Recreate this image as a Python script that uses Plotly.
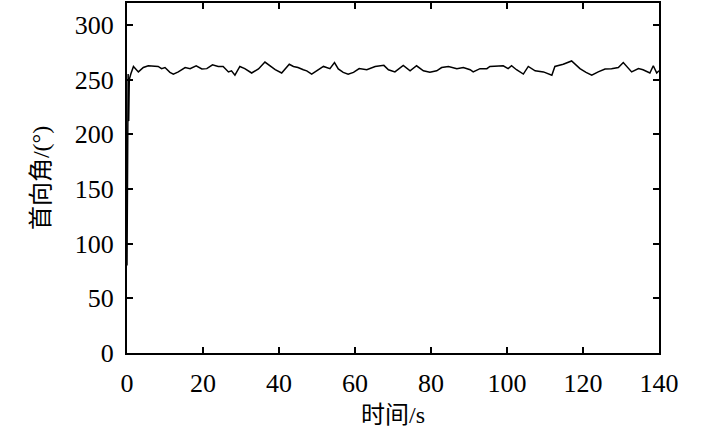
import plotly.graph_objects as go

time_s = [0, 0.15, 0.3, 0.45, 0.6, 1.0, 1.7, 3.0, 4.3, 5.6, 6.9, 8.2, 9.1, 10.0, 11.3, 12.2, 13.5,
          15.3, 16.6, 18.2, 19.7, 21.0, 22.5, 24.0, 25.3, 26.7, 27.5, 28.4, 29.7, 31.0, 32.8,
          34.6, 36.3, 37.6, 39.0, 40.7, 41.6, 42.7, 43.8, 45.0, 46.4, 47.3, 48.6, 49.9, 51.7,
          53.4, 54.6, 55.6, 56.9, 58.2, 59.6, 61.1, 63.1, 65.3, 67.6, 68.8, 70.5, 72.7, 74.5,
          76.2, 78.0, 79.7, 81.5, 82.8, 84.6, 86.8, 88.5, 90.3, 91.1, 92.9, 94.7, 95.5, 97.3,
          99.0, 100.3, 101.2, 102.5, 104.3, 105.6, 107.4, 109.6, 111.8, 112.6, 114.8, 117.0,
          119.2, 120.8, 122.3, 124.0, 125.8, 127.5, 129.3, 130.6, 132.8, 134.6, 135.8, 137.6,
          138.5, 139.4, 140.0]
heading_deg = [80, 200, 255, 212, 250, 255, 262, 257, 261, 262.6, 262, 262, 260, 261, 256.6, 255, 257,
               261, 260, 262.6, 259.7, 260, 263.5, 262, 262, 257, 258, 254, 262, 260, 256,
               259.7, 266, 263, 259, 256, 260, 264, 262, 261, 259, 258, 255, 258, 262,
               260, 265.6, 259.7, 256.6, 255, 256.6, 260, 259, 262, 263, 259, 257, 263, 258,
               262.6, 258, 256.6, 258, 261, 262, 260, 261, 259, 257, 260, 260, 262, 262,
               262.6, 260, 262.6, 259, 255, 262, 258, 257, 254, 262, 264, 267,
               260, 256.6, 254, 257, 259.7, 260, 261, 265.6, 257, 260, 259, 256,
               262.6, 256, 258]

x_ticks = [0, 20, 40, 60, 80, 100, 120, 140]
y_ticks = [0, 50, 100, 150, 200, 250, 300]

font_fam = "Times New Roman, Liberation Serif, Noto Sans CJK SC, serif"

fig = go.Figure()
fig.add_trace(go.Scatter(x=time_s, y=heading_deg, mode="lines",
                         line=dict(color="black", width=1.5), showlegend=False))

axis_common = dict(showline=True, linecolor="black", linewidth=2, mirror="ticks",
                   ticks="inside", ticklen=6, tickwidth=1.5, tickcolor="black",
                   showgrid=False, zeroline=False,
                   tickfont=dict(family=font_fam, size=26, color="black"))

fig.update_layout(
    width=709, height=433,
    margin=dict(l=127, r=50, t=1, b=80),
    paper_bgcolor="white", plot_bgcolor="white",
    font=dict(family=font_fam, color="black"),
    xaxis=dict(range=[0, 140], tickvals=x_ticks, ticklabelstandoff=6,
               title=dict(text="时间/s", font=dict(family=font_fam, size=24, color="black"), standoff=9),
               **axis_common),
    yaxis=dict(range=[0, 320], tickvals=y_ticks, ticklabelstandoff=6,
               title=dict(text="首向角/(°)", font=dict(family=font_fam, size=24, color="black"), standoff=18),
               **axis_common),
)

fig.write_html("out.html", config={"displayModeBar": False},
               post_script="document.body.style.margin='0';")
